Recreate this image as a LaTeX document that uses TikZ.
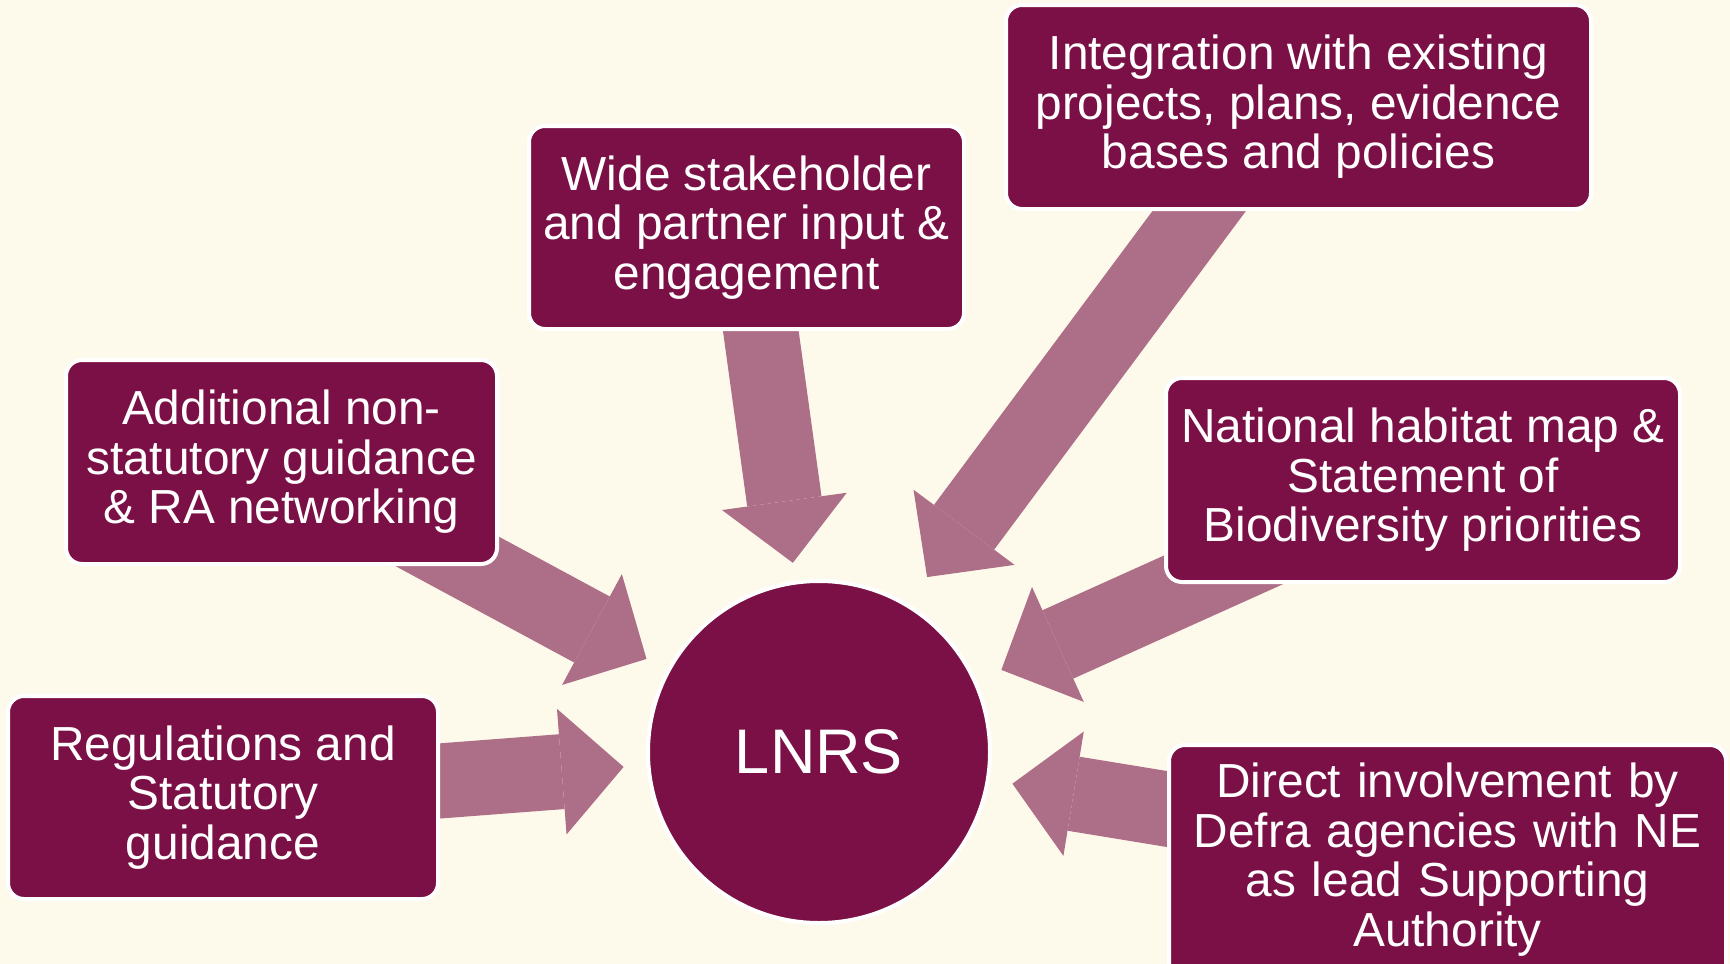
\documentclass[tikz,border=0pt]{standalone}
\usepackage{fontspec}
\setmainfont{Liberation Sans}
\usetikzlibrary{arrows.meta}
\definecolor{plum}{RGB}{122,16,69}
\definecolor{mauve}{RGB}{173,110,135}
\definecolor{cream}{RGB}{254,250,235}
\pgfdeclarelayer{bg}
\pgfdeclarelayer{links}
\pgfsetlayers{bg,links,main}
\tikzset{
  infobox/.style={draw=white, line width=4pt, fill=plum, text=white, rounded corners=16pt,
    align=center, inner sep=0pt, outer sep=0pt, font=\fontsize{47.8}{49.6}\selectfont},
  hub/.style={circle, draw=white, line width=4pt, fill=plum, text=white,
    minimum size=342pt, inner sep=0pt, font=\fontsize{63}{70}\selectfont},
  feed/.style={draw=mauve, line width=75pt, -{Triangle[width=126pt,length=62pt,line width=0pt]}}
}

\begin{document}
\begin{tikzpicture}[x=1pt,y=-1pt]
  \useasboundingbox (0,0) rectangle (1730,964);
  \begin{pgfonlayer}{bg}
    \fill[cream] (0,0) rectangle (1730,964);
  \end{pgfonlayer}
  % Centro
  \node[hub] (lnrs) at (819,752) {LNRS};
  % Caixas
  \node[infobox, minimum width=430pt, minimum height=203pt] (reg) at (223,797.5)
    {Regulations and\\Statutory\\guidance};
  \node[infobox, minimum width=431pt, minimum height=204pt] (add) at (281.5,462)
    {Additional non-\\statutory guidance\\\& RA networking};
  \node[infobox, minimum width=435pt, minimum height=203pt] (wide) at (746.5,227.5)
    {Wide stakeholder\\and partner input \&\\engagement};
  \node[infobox, minimum width=585pt, minimum height=204pt] (integ) at (1298.5,107)
    {Integration with existing\\projects, plans, evidence\\bases and policies};
  \node[infobox, minimum width=514pt, minimum height=204pt] (nat) at (1423,480)
    {National habitat map \&\\Statement of\\Biodiversity priorities};
  \node[infobox, minimum width=557pt, text width=540pt, inner ysep=8pt,
    text height=44.7pt, text depth=194.3pt, anchor=north] (direct) at (1447.5,745)
    {Direct involvement by\\Defra agencies with NE\\as lead Supporting\\Authority};
  % Setas
  \begin{pgfonlayer}{links}
    \foreach \src/\sx/\sy/\tx/\gap in {reg/0/0/0/196pt, add/0/0/0/196pt, wide/0/0/0/191pt,
        integ/-22/0/-22/218pt, nat/0/0/0/200pt, direct/0/-17.5/0/196pt}
      \draw[feed, shorten >=\gap] ([shift={(\sx,\sy)}]\src.center) -- ([shift={(\tx,0)}]lnrs.center);
  \end{pgfonlayer}
\end{tikzpicture}
\end{document}
